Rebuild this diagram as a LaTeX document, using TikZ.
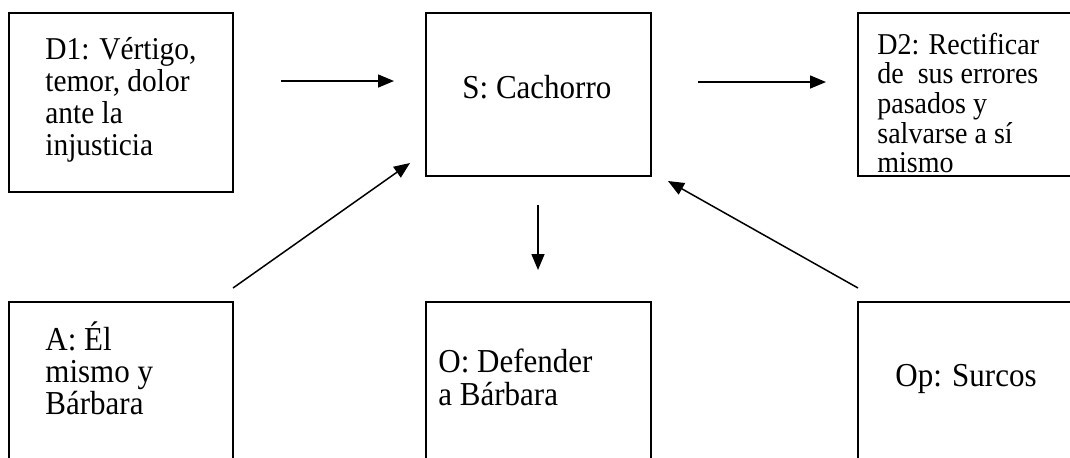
\documentclass[tikz,border=0pt]{standalone}
\usepackage{graphicx}
\usepackage{fontspec}
\setmainfont{Liberation Serif}
\usetikzlibrary{arrows.meta}
\newcommand\vstr[1]{\scalebox{1}[1.08]{#1}}
\begin{document}
\begin{tikzpicture}[x=0.5pt,y=-0.5pt,
  box/.style={draw,line width=1pt,inner sep=0pt,outer sep=0pt},
  txt/.style={anchor=base west,inner sep=0pt,font=\fontsize{15.5}{16}\selectfont},
  txtdone/.style={anchor=base west,inner sep=0pt,font=\fontsize{14.7}{15}\selectfont},
  txtsmall/.style={anchor=base west,inner sep=0pt,font=\fontsize{14}{15}\selectfont},
  conn/.style={line width=0.75pt,-{Triangle[length=8pt,width=6.5pt]}}]
\clip (0,0) rectangle (1070,457);
\fill[white] (0,0) rectangle (1070,457);
% boxes
\node[box,minimum width=112pt,minimum height=89.5pt] (d1) at (121,102.5) {};
\node[box,minimum width=112.5pt,minimum height=81.5pt] (s) at (538.5,94.5) {};
\node[box,minimum width=113.5pt,minimum height=81.5pt] (d2) at (971.5,94.5) {};
\node[box,minimum width=112pt,minimum height=89pt] (a) at (121,391) {};
\node[box,minimum width=112.5pt,minimum height=89pt] (o) at (538.5,391) {};
\node[box,minimum width=113.5pt,minimum height=89pt] (op) at (971.5,391) {};
% texts
\node[txtdone] (d1t1) at (45,59) {\vstr{D1: Vértigo,}};
\node[txtdone] (d1t2) at (45,91) {\vstr{temor, dolor}};
\node[txtdone] (d1t3) at (45,123) {\vstr{ante la}};
\node[txtdone] (d1t4) at (45,155) {\vstr{injusticia}};
\node[txt] (st) at (462,98) {\vstr{S: Cachorro}};
\node[txtsmall] (d2t1) at (877,54) {\vstr{D2: Rectificar}};
\node[txtsmall] (d2t2) at (877,83.5) {\vstr{de\ \ sus errores}};
\node[txtsmall] (d2t3) at (877,113) {\vstr{pasados y}};
\node[txtsmall] (d2t4) at (877,143) {\vstr{salvarse a sí}};
\node[txtsmall] (d2t5) at (877,172.5) {\vstr{mismo}};
\node[txt] (at1) at (45,350) {\vstr{A: Él}};
\node[txt] (at2) at (45,382) {\vstr{mismo y}};
\node[txt] (at3) at (45,414) {\vstr{Bárbara}};
\node[txt] (ot1) at (438,372) {\vstr{O: Defender}};
\node[txt] (ot2) at (438,405) {\vstr{a Bárbara}};
\node[txt] (opt) at (895,386) {\vstr{Op: Surcos}};
% redraw D2 bottom border over text
\draw[line width=1pt] (d2.south west) -- (d2.south east);
% connector end points
\coordinate (c1a) at (281,81);
\coordinate (c1b) at (394,81);
\coordinate (c2a) at (698,82);
\coordinate (c2b) at (826,82);
\coordinate (c3a) at (233,288);
\coordinate (c3b) at (410,163);
\coordinate (c4a) at (858,288);
\coordinate (c4b) at (668,181);
\coordinate (c5a) at (538,205);
\coordinate (c5b) at (538,270);
% connectors
\draw[conn] (c1a) -- (c1b);
\draw[conn] (c2a) -- (c2b);
\draw[conn] (c3a) -- (c3b);
\draw[conn] (c4a) -- (c4b);
\draw[conn] (c5a) -- (c5b);
\end{tikzpicture}
\end{document}
